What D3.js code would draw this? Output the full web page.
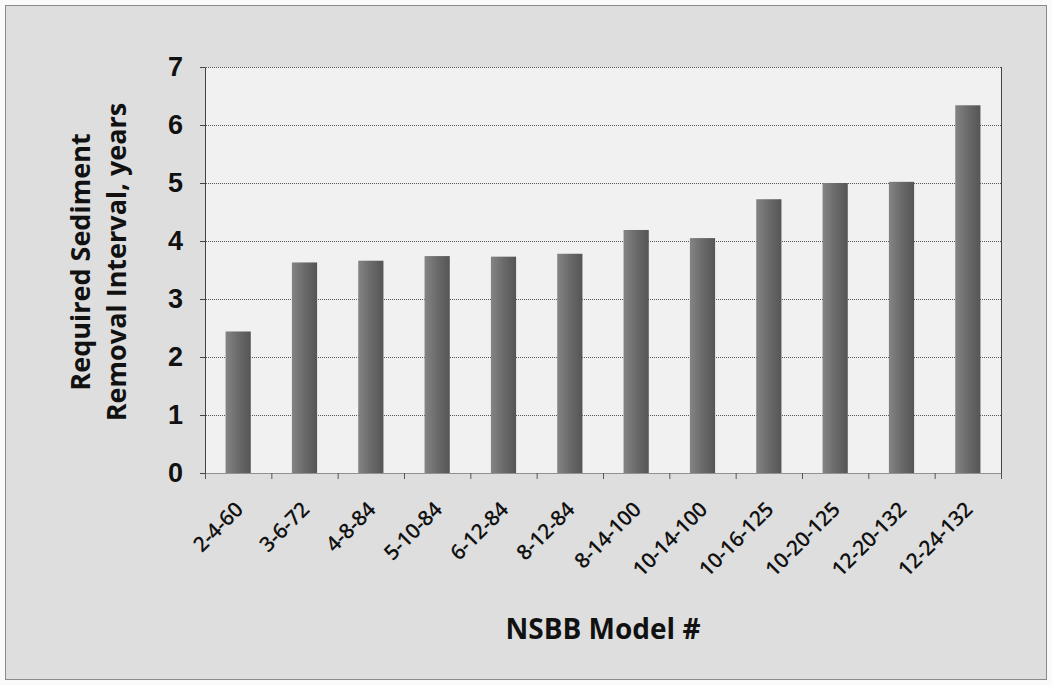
<!DOCTYPE html>
<html><head><meta charset="utf-8">
<script src="https://cdn.jsdelivr.net/npm/d3@7"></script>
<style>body{margin:0;background:#fff}svg{display:block}</style>
</head><body><svg id="c" width="1052" height="685"></svg>
<script>
const categories = ["2-4-60","3-6-72","4-8-84","5-10-84","6-12-84","8-12-84","8-14-100","10-14-100","10-16-125","10-20-125","12-20-132","12-24-132"];
const values = [2.44,3.63,3.66,3.74,3.73,3.78,4.19,4.05,4.72,5.0,5.02,6.34];
const yTicks = [0,1,2,3,4,5,6,7];
const yTitle = ["Required Sediment","Removal Interval, years"];
const xTitle = "NSBB Model #";

const svg = d3.select("#c");
const W = 1052, H = 685;
const m = {l:205, r:1001, t:67, b:473};

const defs = svg.append("defs");
const g = defs.append("linearGradient").attr("id","bar").attr("x1","0").attr("x2","1");
g.append("stop").attr("offset","0").attr("stop-color","#848484");
g.append("stop").attr("offset","0.5").attr("stop-color","#6a6a6a");
g.append("stop").attr("offset","1").attr("stop-color","#555555");

svg.append("rect").attr("x",0).attr("y",0).attr("width",W).attr("height",H).attr("fill","#fafafa");
svg.append("rect").attr("x",5.5).attr("y",5.5).attr("width",W-11).attr("height",H-11)
  .attr("fill","#dedede").attr("stroke","#8a8a8a").attr("stroke-width",1);
svg.append("rect").attr("x",m.l).attr("y",m.t).attr("width",m.r-m.l).attr("height",m.b-m.t)
  .attr("fill","#f1f1f1");

const x = d3.scaleBand().domain(categories).range([m.l,m.r]).paddingInner(0.62).paddingOuter(0.31);
const y = d3.scaleLinear().domain([0,7]).range([m.b,m.t]);

// gridlines
svg.append("g").selectAll("line").data(yTicks.slice(1)).join("line")
  .attr("x1",m.l-5).attr("x2",m.r).attr("y1",d=>y(d)+0.5).attr("y2",d=>y(d)+0.5)
  .attr("stroke","#555").attr("stroke-width",1).attr("stroke-dasharray","1,1");

// bars
svg.append("g").selectAll("rect").data(values).join("rect")
  .attr("x",(d,i)=>x(categories[i])).attr("width",x.bandwidth())
  .attr("y",d=>y(d)).attr("height",d=>y(0)-y(d)).attr("fill","url(#bar)");

// right border of plot
svg.append("line").attr("x1",m.r+0.5).attr("x2",m.r+0.5).attr("y1",m.t).attr("y2",m.b+3)
  .attr("stroke","#444").attr("stroke-width",1);

// y axis
const ya = svg.append("g").attr("transform",`translate(${m.l},0)`)
  .call(d3.axisLeft(y).tickValues(yTicks).tickSize(5).tickPadding(17).tickFormat(d3.format("d")));
ya.select(".domain").attr("stroke","#444");
ya.selectAll(".tick line").attr("stroke","#444");
ya.selectAll("text").attr("font-family","'Liberation Sans', Arial, sans-serif").attr("font-weight","bold")
  .attr("font-size",27).attr("fill","#111");

// x axis
const band = x.step();
const xa = svg.append("g").attr("transform",`translate(0,${m.b})`)
  .call(d3.axisBottom(x).tickSize(0).tickFormat(d=>d));
xa.select(".domain").attr("stroke","#444").attr("stroke-dasharray","1,1");
xa.append("g").selectAll("line").data(d3.range(categories.length+1)).join("line")
  .attr("x1",i=>m.l+i*band+0.5).attr("x2",i=>m.l+i*band+0.5).attr("y1",0).attr("y2",6)
  .attr("stroke","#555");
xa.selectAll(".tick text")
  .attr("font-family","'Open Sans', 'Noto Sans', sans-serif").attr("font-size",21).attr("font-weight",600)
  .attr("fill","#111").attr("letter-spacing",-0.3)
  .attr("text-anchor","end").attr("dy",0).attr("y",0).attr("x",0)
  .attr("transform",`translate(6,38) rotate(-45)`);

// y title
const yt = svg.append("text").attr("transform",`translate(90,262) rotate(-90)`)
  .attr("text-anchor","middle").attr("font-family","'Open Sans', 'Noto Sans', sans-serif")
  .attr("font-weight","bold").attr("font-size",27).attr("letter-spacing",0).attr("fill","#111");
yTitle.forEach((t,i)=>yt.append("tspan").attr("x",0).attr("dy",i===0?0:36).text(t));

// x title
svg.append("text").attr("x",(m.l+m.r)/2).attr("y",639).attr("text-anchor","middle")
  .attr("font-family","'Open Sans', 'Noto Sans', sans-serif").attr("font-weight","bold")
  .attr("font-size",28).attr("letter-spacing",0).attr("fill","#111").text(xTitle);
</script></body></html>
